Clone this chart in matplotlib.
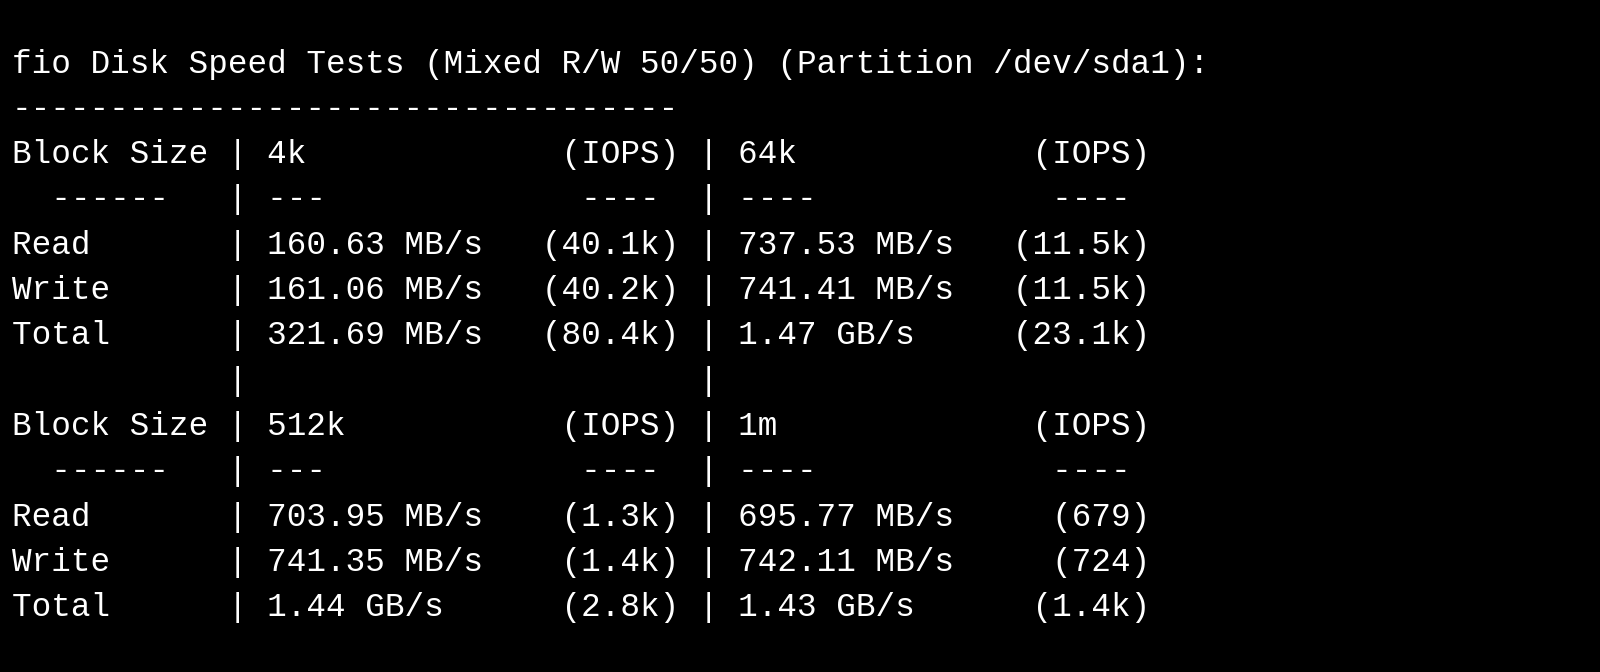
import matplotlib

matplotlib.use("Agg")
import matplotlib.pyplot as plt

TITLE = "fio Disk Speed Tests (Mixed R/W 50/50) (Partition /dev/sda1):"
BLOCKS = [("4k", "64k"), ("512k", "1m")]
ROWS = ["Read", "Write", "Total"]
SPEEDS = [
    [("160.63 MB/s", "(40.1k)", "737.53 MB/s", "(11.5k)"),
     ("161.06 MB/s", "(40.2k)", "741.41 MB/s", "(11.5k)"),
     ("321.69 MB/s", "(80.4k)", "1.47 GB/s", "(23.1k)")],
    [("703.95 MB/s", "(1.3k)", "695.77 MB/s", "(679)"),
     ("741.35 MB/s", "(1.4k)", "742.11 MB/s", "(724)"),
     ("1.44 GB/s", "(2.8k)", "1.43 GB/s", "(1.4k)")],
]

lines = [TITLE, "-" * 34]
for i, (b1, b2) in enumerate(BLOCKS):
    if i:
        lines.append(f"{'':<10} | {'':<21} |")
    lines.append(f"{'Block Size':<10} | {b1:<11} {'(IOPS)':>9} | {b2:<11} {'(IOPS)':>9}")
    lines.append(f"{'  ------':<10} | {'---':<11} {'----':>8}  | {'----':<11} {'----':>8}")
    for name, (v1, o1, v2, o2) in zip(ROWS, SPEEDS[i]):
        lines.append(f"{name:<10} | {v1:<11} {o1:>9} | {v2:<11} {o2:>9}")

W, H = 1600, 672
fig = plt.figure(figsize=(16, 6.72), dpi=100, facecolor="black")
ax = fig.add_axes([0, 0, 1, 1])
ax.set_xlim(0, W)
ax.set_ylim(H, 0)
ax.axis("off")
ax.set_facecolor("black")

for k, line in enumerate(lines):
    ax.text(12, 64 + k * 45.33, line, color="white", family="Liberation Mono",
            fontsize=23.5, va="center", ha="left")

fig.savefig("out.png", dpi=100, facecolor="black")
